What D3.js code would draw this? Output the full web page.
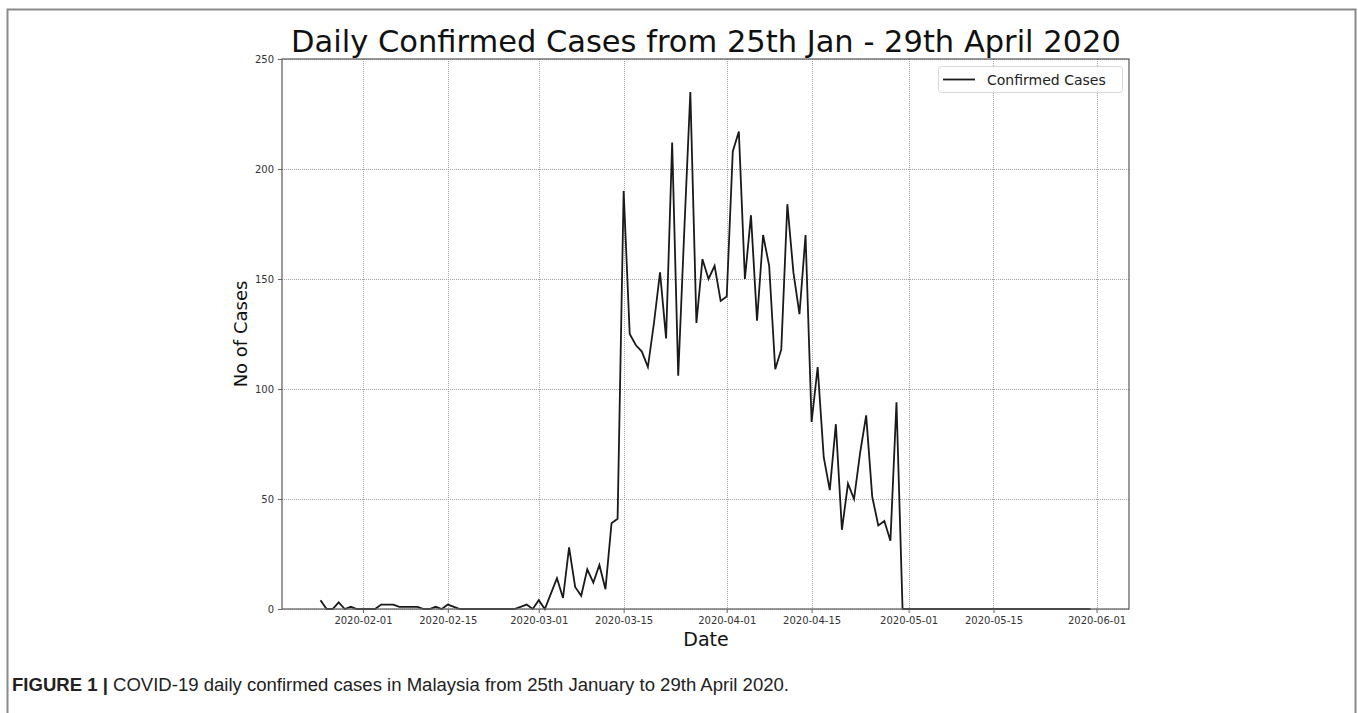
<!DOCTYPE html>
<html>
<head>
<meta charset="utf-8">
<script src="https://cdn.jsdelivr.net/npm/d3@7"></script>
<style>
  html, body { margin: 0; padding: 0; background: #fff; }
  svg { display: block; }
</style>
</head>
<body>
<svg id="chart" width="1358" height="713"></svg>
<script>
// Daily confirmed COVID-19 cases in Malaysia, one value per day from the start date
const startDate = "2020-01-25";
const janValues = [4, 0, 0, 3, 0, 1, 0];                               // Jan 25 - 31
const febValues = [0, 0, 0, 2, 2, 2, 1, 1, 1, 1, 0, 0, 1, 0, 2, 1, 0, 0, 0, 0,
                   0, 0, 0, 0, 0, 0, 1, 2, 0];                           // Feb 1 - 29
const marValues = [4, 0, 7, 14, 5, 28, 10, 6, 18, 12, 20, 9, 39, 41, 190, 125,
                   120, 117, 110, 130, 153, 123, 212, 106, 172, 235, 130, 159,
                   150, 156, 140];                                       // Mar 1 - 31
const aprValues = [142, 208, 217, 150, 179, 131, 170, 156, 109, 118, 184, 153,
                   134, 170, 85, 110, 69, 54, 84, 36, 57, 50, 71, 88, 51, 38,
                   40, 31, 94, 0];                                       // Apr 1 - 30
const mayValues = [0, 0, 0, 0, 0, 0, 0, 0, 0, 0, 0, 0, 0, 0, 0, 0, 0, 0, 0, 0,
                   0, 0, 0, 0, 0, 0, 0, 0, 0, 0, 0];                    // May 1 - 31

const xTickLabels = ["2020-02-01", "2020-02-15", "2020-03-01", "2020-03-15",
                     "2020-04-01", "2020-04-15", "2020-05-01", "2020-05-15", "2020-06-01"];
const yTickValues = [0, 50, 100, 150, 200, 250];

const titleText = "Daily Confirmed Cases from 25th Jan - 29th April 2020";
const xLabelText = "Date";
const yLabelText = "No of Cases";
const legendText = "Confirmed Cases";
const captionBold = "FIGURE 1 |";
const captionRest = " COVID-19 daily confirmed cases in Malaysia from 25th January to 29th April 2020.";

// ---- build the series ----
const parse = d3.utcParse("%Y-%m-%d");
const fmt = d3.utcFormat("%Y-%m-%d");
const allValues = [].concat(janValues, febValues, marValues, aprValues, mayValues);
const t0 = parse(startDate);
const series = allValues.map((v, i) => ({ date: d3.utcDay.offset(t0, i), value: v }));

// ---- layout ----
const plot = { left: 282, right: 1129, top: 59, bottom: 609 };
const font = "'DejaVu Sans', sans-serif";

const svg = d3.select("#chart");

// page frame
svg.append("rect")
  .attr("x", 7.5).attr("y", 9.5)
  .attr("width", 1348).attr("height", 730)
  .attr("fill", "none").attr("stroke", "#8a8a8a").attr("stroke-width", 2);

// x extent padded by 5% on both sides
const ext = d3.extent(series, d => d.date);
const span = ext[1] - ext[0];
const x = d3.scaleUtc()
  .domain([new Date(+ext[0] - span * 0.05), new Date(+ext[1] + span * 0.05)])
  .range([plot.left, plot.right]);
const y = d3.scaleLinear()
  .domain([0, 250])
  .range([plot.bottom, plot.top]);

const xTicks = xTickLabels.map(parse);

// grid
const grid = svg.append("g").attr("class", "grid");
grid.selectAll("line.gx").data(xTicks).join("line")
  .attr("x1", d => Math.round(x(d)) + 0.5).attr("x2", d => Math.round(x(d)) + 0.5)
  .attr("y1", plot.top).attr("y2", plot.bottom)
  .attr("stroke", "#9a9a9a").attr("stroke-width", 0.9).attr("stroke-dasharray", "1,1");
grid.selectAll("line.gy").data(yTickValues).join("line")
  .attr("x1", plot.left).attr("x2", plot.right)
  .attr("y1", d => Math.round(y(d)) + 0.5).attr("y2", d => Math.round(y(d)) + 0.5)
  .attr("stroke", "#9a9a9a").attr("stroke-width", 0.9).attr("stroke-dasharray", "1,1");

// data line
const line = d3.line().x(d => x(d.date)).y(d => y(d.value));
svg.append("path")
  .datum(series)
  .attr("d", line)
  .attr("fill", "none")
  .attr("stroke", "#1a1a1a")
  .attr("stroke-width", 1.8)
  .attr("stroke-linejoin", "miter");

// axes
const xAxis = d3.axisBottom(x).tickValues(xTicks).tickFormat(fmt).tickSizeOuter(0).tickSize(4).tickPadding(4);
const yAxis = d3.axisLeft(y).tickValues(yTickValues).tickSizeOuter(0).tickSize(4).tickPadding(4);

const gx = svg.append("g").attr("transform", `translate(0,${plot.bottom})`).call(xAxis);
const gy = svg.append("g").attr("transform", `translate(${plot.left},0)`).call(yAxis);
[gx, gy].forEach(g => {
  g.select(".domain").remove();
  g.selectAll(".tick line").attr("stroke", "#555").attr("stroke-width", 0.9);
  g.selectAll(".tick text").attr("fill", "#333").style("font-family", font).style("font-size", "10px");
});

// plot frame (spines)
svg.append("rect")
  .attr("x", plot.left).attr("y", plot.top)
  .attr("width", plot.right - plot.left).attr("height", plot.bottom - plot.top)
  .attr("fill", "none").attr("stroke", "#666").attr("stroke-width", 1.3);

// title and axis labels
svg.append("text")
  .attr("x", (plot.left + plot.right) / 2 + 0.5).attr("y", 52)
  .attr("text-anchor", "middle")
  .style("font-family", font).style("font-size", "30.5px").attr("fill", "#111")
  .text(titleText);

svg.append("text")
  .attr("x", 706).attr("y", 646)
  .attr("text-anchor", "middle")
  .style("font-family", font).style("font-size", "19px").attr("fill", "#111")
  .text(xLabelText);

svg.append("text")
  .attr("transform", `translate(247,${(plot.top + plot.bottom) / 2}) rotate(-90)`)
  .attr("text-anchor", "middle")
  .style("font-family", font).style("font-size", "18px").attr("fill", "#111")
  .text(yLabelText);

// legend
const lg = svg.append("g");
lg.append("rect")
  .attr("x", 938.5).attr("y", 66.5).attr("width", 184).attr("height", 26).attr("rx", 3)
  .attr("fill", "#fff").attr("fill-opacity", 0.85)
  .attr("stroke", "#d8d8d8").attr("stroke-width", 1);
lg.append("line")
  .attr("x1", 943).attr("x2", 975).attr("y1", 79.5).attr("y2", 79.5)
  .attr("stroke", "#1a1a1a").attr("stroke-width", 1.8);
lg.append("text")
  .attr("x", 987).attr("y", 84.5)
  .style("font-family", font).style("font-size", "14px").attr("fill", "#222")
  .text(legendText);

// caption, condensed horizontally to its column width
const cap = svg.append("text")
  .attr("x", 0).attr("y", 0)
  .style("font-family", "'Liberation Sans Narrow', 'Liberation Sans', Arial, sans-serif")
  .style("font-size", "17.5px").attr("fill", "#222");
cap.append("tspan").style("font-weight", "bold").text(captionBold);
cap.append("tspan").text(captionRest);
const capW = cap.node().getComputedTextLength();
const capScale = 778 / capW;
cap.attr("transform", `translate(12,691) scale(${capScale},1)`);
</script>
</body>
</html>
